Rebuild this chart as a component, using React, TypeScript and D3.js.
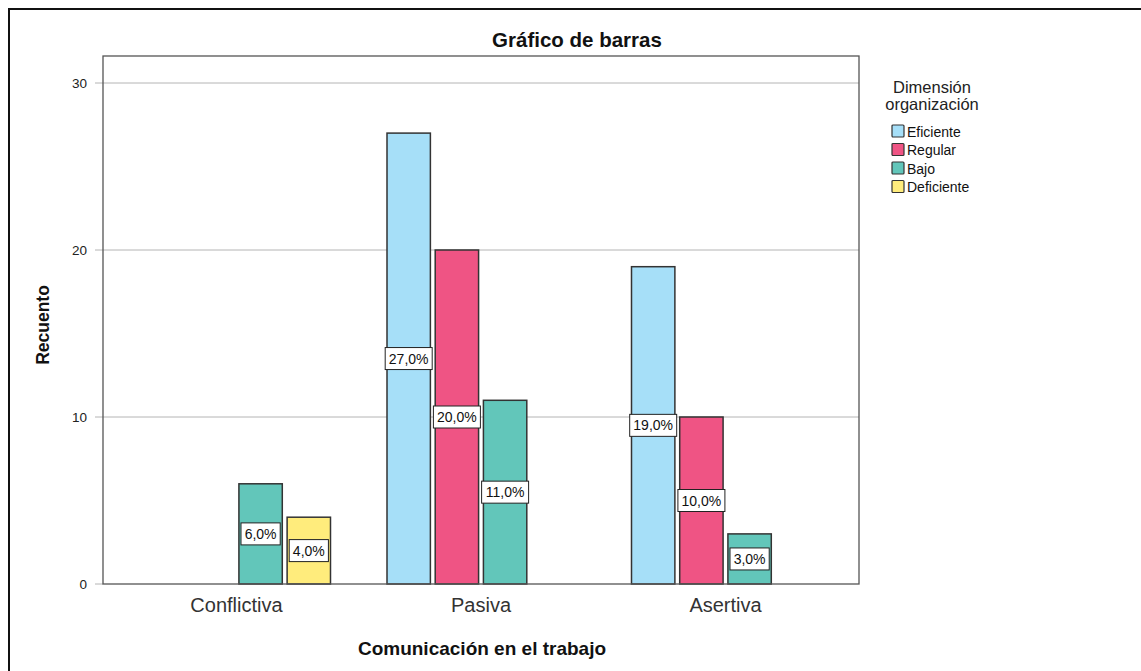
import React from "react";
import * as d3 from "d3";

const categories = ["Conflictiva", "Pasiva", "Asertiva"];
const series = ["Eficiente", "Regular", "Bajo", "Deficiente"];
const colors = ["#a6dff8", "#ef5484", "#62c6ba", "#ffec7c"];
// counts per category, in series order
const eficiente = [0, 27, 19];
const regular = [0, 20, 10];
const bajo = [6, 11, 3];
const deficiente = [4, 0, 0];
const percentLabels = [
  ["", "", "6,0%", "4,0%"],
  ["27,0%", "20,0%", "11,0%", ""],
  ["19,0%", "10,0%", "3,0%", ""],
];
const yTicks = [0, 10, 20, 30];

const W = 1141;
const H = 671;
const plot = { left: 103, right: 859, top: 56, bottom: 584 };
const font = "'Liberation Sans', Arial, sans-serif";

export default function App() {
  const values = [eficiente, regular, bajo, deficiente];

  const x = d3
    .scalePoint<string>()
    .domain(categories)
    .range([plot.left, plot.right])
    .padding(0.546);

  const xs = d3
    .scaleBand<string>()
    .domain(series)
    .range([-94, 94])
    .paddingInner(0.1);

  const y = d3.scaleLinear().domain([0, 30]).range([plot.bottom, 83]);

  const bars: { cat: number; s: number; v: number }[] = [];
  categories.forEach((c, ci) => {
    series.forEach((s, si) => {
      const v = values[si][ci];
      if (v > 0) bars.push({ cat: ci, s: si, v });
    });
  });

  return (
    <svg
      width={W}
      height={H}
      style={{ position: "absolute", left: 0, top: 0, background: "#fff" }}
      fontFamily={font}
    >
      {/* outer frame */}
      <rect x={9} y={9} width={1200} height={720} fill="#fff" stroke="#111" strokeWidth={2} />

      <text x={577} y={47} textAnchor="middle" fontSize={20.5} fontWeight="bold" fill="#111">
        Gráfico de barras
      </text>

      {/* grid */}
      {yTicks.map((t) => (
        <g key={t}>
          {t > 0 && (
            <line x1={95} x2={plot.right} y1={y(t)} y2={y(t)} stroke="#b4b4b4" strokeWidth={1} />
          )}
          {t === 0 && <line x1={95} x2={plot.left} y1={y(t)} y2={y(t)} stroke="#b4b4b4" />}
          <text x={87} y={y(t) + 5} textAnchor="end" fontSize={13.5} fill="#222">
            {t}
          </text>
        </g>
      ))}

      {/* bars */}
      {bars.map((b, i) => {
        const bx = (x(categories[b.cat]) as number) + (xs(series[b.s]) as number);
        return (
          <rect
            key={i}
            x={bx}
            y={y(b.v)}
            width={xs.bandwidth()}
            height={y(0) - y(b.v)}
            fill={colors[b.s]}
            stroke="#333"
            strokeWidth={1.5}
          />
        );
      })}

      {/* plot frame */}
      <rect
        x={plot.left}
        y={plot.top}
        width={plot.right - plot.left}
        height={plot.bottom - plot.top}
        fill="none"
        stroke="#555"
        strokeWidth={1.3}
      />

      {/* value labels */}
      {bars.map((b, i) => {
        const label = percentLabels[b.cat][b.s];
        const cx =
          (x(categories[b.cat]) as number) + (xs(series[b.s]) as number) + xs.bandwidth() / 2;
        const cy = y(b.v / 2);
        const bw = label.length * 7.8 + 8;
        return (
          <g key={"l" + i}>
            <rect x={cx - bw / 2} y={cy - 11} width={bw} height={22} fill="#fff" stroke="#222" strokeWidth={1} />
            <text x={cx} y={cy + 5} textAnchor="middle" fontSize={14} fill="#111">
              {label}
            </text>
          </g>
        );
      })}

      {/* category labels */}
      {categories.map((c) => (
        <text key={c} x={x(c) as number} y={612} textAnchor="middle" fontSize={20} fill="#333">
          {c}
        </text>
      ))}

      <text x={482} y={655} textAnchor="middle" fontSize={19} fontWeight="bold" fill="#111">
        Comunicación en el trabajo
      </text>
      <text
        transform={`translate(49, ${(plot.top + plot.bottom) / 2 + 5}) rotate(-90)`}
        textAnchor="middle"
        fontSize={17.5}
        fontWeight="bold"
        fill="#111"
      >
        Recuento
      </text>

      {/* legend */}
      <text x={932} y={93} textAnchor="middle" fontSize={16.5} fill="#222">
        Dimensión
      </text>
      <text x={932} y={110} textAnchor="middle" fontSize={16.5} fill="#222">
        organización
      </text>
      {series.map((s, i) => (
        <g key={s} transform={`translate(892, ${125 + i * 18.5})`}>
          <rect x={0} y={0} width={12} height={12} fill={colors[i]} stroke="#333" strokeWidth={1.2} rx={1} />
          <text x={15} y={11.5} fontSize={14} fill="#111">
            {s}
          </text>
        </g>
      ))}
    </svg>
  );
}
